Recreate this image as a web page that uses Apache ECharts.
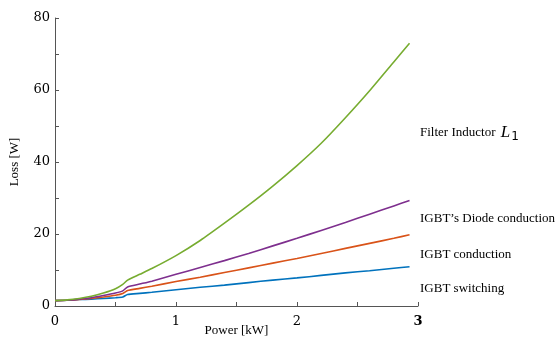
<!DOCTYPE html>
<html><head><meta charset="utf-8">
<script src="https://cdn.jsdelivr.net/npm/echarts@6/dist/echarts.min.js"></script>
<style>html,body{margin:0;padding:0;background:#fff}#c{width:559px;height:337px}</style>
</head><body><div id="c"></div>
<script>
const xs = [0, 0.1, 0.2, 0.3, 0.4, 0.5, 0.56, 0.6, 0.7, 0.8, 1.0, 1.2, 1.4, 1.6, 1.8, 2.0, 2.2, 2.4, 2.6, 2.8, 2.93];
const inductor = [1.5, 1.7, 2.1, 2.7, 3.6, 4.8, 6.0, 7.2, 8.8, 10.4, 14.0, 18.2, 23.0, 28.0, 33.3, 39.0, 45.2, 52.3, 59.8, 67.8, 73.0];
const diode    = [1.5, 1.6, 1.9, 2.3, 2.9, 3.6, 4.2, 5.3, 6.1, 6.9, 8.8, 10.7, 12.6, 14.6, 16.7, 18.8, 21.0, 23.2, 25.5, 27.8, 29.3];
const igbtCond = [1.5, 1.6, 1.8, 2.1, 2.5, 3.0, 3.5, 4.3, 4.9, 5.5, 6.8, 8.0, 9.3, 10.6, 11.9, 13.2, 14.6, 16.0, 17.4, 18.8, 19.8];
const igbtSw   = [1.5, 1.6, 1.8, 1.9, 2.1, 2.3, 2.5, 3.2, 3.5, 3.8, 4.5, 5.2, 5.8, 6.5, 7.2, 7.8, 8.5, 9.2, 9.8, 10.5, 10.9];
const seriesNames = ['Filter Inductor', 'IGBT\u2019s Diode conduction', 'IGBT conduction', 'IGBT switching'];
const seriesColors = ['#77AC30', '#7E2F8E', '#D95319', '#0072BD'];
const xTickLabels = [0, 1, 2, 3];
const yTickLabels = [0, 20, 40, 60, 80];

const zip = arr => xs.map((x, i) => [x, arr[i]]);
const allData = [inductor, diode, igbtCond, igbtSw];
const serif = 'Liberation Serif';
const numFont = 'DejaVu Serif';

const chart = echarts.init(document.getElementById('c'), null, {renderer: 'canvas'});
chart.setOption({
  animation: false,
  grid: {left: 55, right: 141, top: 18, bottom: 31, containLabel: false, outerBoundsMode: 'none'},
  xAxis: {
    type: 'value', min: 0, max: 3, interval: 0.5,
    name: 'Power [kW]', nameLocation: 'middle', nameGap: 18, nameMoveOverlap: false,
    nameTextStyle: {fontFamily: serif, fontSize: 13, color: '#000'},
    axisLine: {lineStyle: {color: '#555', width: 1}},
    axisTick: {inside: true, length: 4, lineStyle: {color: '#555'}},
    splitLine: {show: false},
    axisLabel: {
      margin: 9, color: '#000', fontFamily: numFont, fontSize: 13,
      formatter: v => xTickLabels.includes(v) ? (v === 3 ? '{b|3}' : String(v)) : '',
      rich: {b: {fontFamily: numFont, fontSize: 13, fontWeight: 'bold', color: '#000'}}
    }
  },
  yAxis: {
    type: 'value', min: 0, max: 80, interval: 10,
    name: 'Loss [W]', nameLocation: 'middle', nameGap: 34, nameMoveOverlap: false,
    nameTextStyle: {fontFamily: serif, fontSize: 13, color: '#000'},
    axisLine: {show: true, lineStyle: {color: '#555', width: 1}},
    axisTick: {show: true, inside: true, length: 4, lineStyle: {color: '#555'}},
    splitLine: {show: false},
    axisLabel: {
      margin: 5, color: '#000', fontFamily: numFont, fontSize: 13,
      formatter: v => yTickLabels.includes(v) ? String(v) : ''
    }
  },
  series: allData.map((d, i) => ({
    name: seriesNames[i], type: 'line', data: zip(d), showSymbol: false,
    smooth: 0.2,
    lineStyle: {color: seriesColors[i], width: 1.6}, z: 10 - i
  })),
  graphic: [
    {type: 'text', left: 420, top: 124, style: {
      text: 'Filter Inductor {l|L}{s|1}', fontFamily: serif, fontSize: 13, fill: '#000',
      rich: {l: {fontFamily: serif, fontStyle: 'italic', fontSize: 17, padding: [0, 0, 0, 2]},
             s: {fontFamily: 'DejaVu Sans', fontSize: 12, padding: [8, 0, 0, 1]}}
    }},
    {type: 'text', left: 420, top: 212, style: {text: seriesNames[1], fontFamily: serif, fontSize: 13, fill: '#000'}},
    {type: 'text', left: 420, top: 248, style: {text: seriesNames[2], fontFamily: serif, fontSize: 13, fill: '#000'}},
    {type: 'text', left: 420, top: 282, style: {text: seriesNames[3], fontFamily: serif, fontSize: 13, fill: '#000'}}
  ]
});
</script></body></html>
